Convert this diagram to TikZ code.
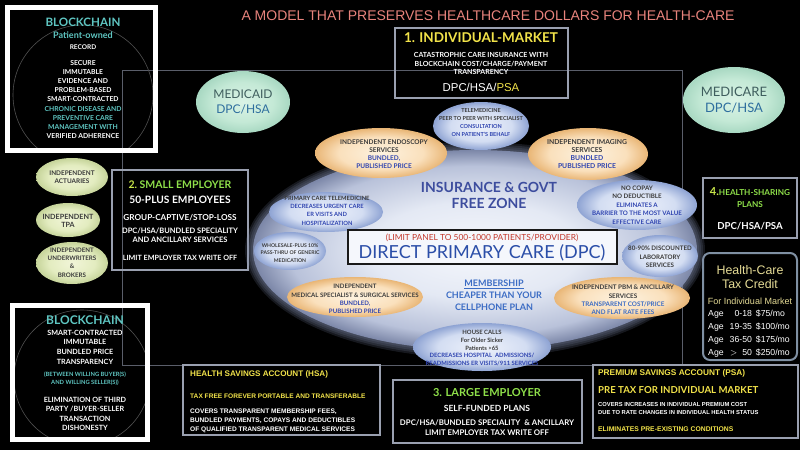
\documentclass[tikz,border=0pt]{standalone}
\usepackage{fontspec}
\setmainfont{Lato}
\newfontfamily\ari{Liberation Sans}
\usetikzlibrary{shapes.geometric}
\newcommand{\fsz}[2]{\fontsize{#1}{#2}\selectfont}
\definecolor{bcteal}{HTML}{5FC6C2}
\definecolor{yel}{HTML}{F2E34A}
\definecolor{grn}{HTML}{8FE04A}
\definecolor{ygr}{HTML}{C9E64A}
\definecolor{sal}{HTML}{E8837C}
\definecolor{boxg}{HTML}{9AA0B0}
\definecolor{lineg}{HTML}{5A5E6A}
\definecolor{faintc}{HTML}{505050}
\definecolor{dtxt}{HTML}{3A3A3A}
\definecolor{tblue}{HTML}{2F44B0}
\definecolor{insc}{HTML}{3D4D9E}
\definecolor{dpcb}{HTML}{2B4EA8}
\definecolor{redc}{HTML}{C3392D}
\definecolor{memc}{HTML}{3B6CC4}
\definecolor{medt}{HTML}{3F5E5E}
\definecolor{medb}{HTML}{2E6E9E}
\definecolor{pale}{HTML}{E6DC96}
\definecolor{taxb}{HTML}{7F90A3}
\definecolor{blob0}{HTML}{F5F7FC}
\definecolor{blob1}{HTML}{E4E9F4}
\definecolor{blob2}{HTML}{B9C2DA}
\definecolor{blob3}{HTML}{7C87A8}
\definecolor{pe0}{HTML}{FDF2DF}
\definecolor{pe1}{HTML}{FAE0BC}
\definecolor{pe2}{HTML}{E9B676}
\definecolor{bu0}{HTML}{EEF2FB}
\definecolor{bu1}{HTML}{D3DDF2}
\definecolor{bu2}{HTML}{8EA3D3}
\definecolor{mn0}{HTML}{DAF3E6}
\definecolor{mn1}{HTML}{C4E9D6}
\definecolor{mn2}{HTML}{A8D8C2}
\definecolor{yg0}{HTML}{F1F5D8}
\definecolor{yg1}{HTML}{E3ECC0}
\definecolor{yg2}{HTML}{C6D49A}
\pgfdeclareradialshading{blobsh}{\pgfpoint{0bp}{0bp}}{color(0bp)=(blob0); color(12bp)=(blob1); color(21bp)=(blob2); color(25bp)=(blob3); color(50bp)=(blob3)}
\pgfdeclareradialshading{peachsh}{\pgfpoint{0bp}{0bp}}{color(0bp)=(pe0); color(16bp)=(pe1); color(25bp)=(pe2); color(50bp)=(pe2)}
\pgfdeclareradialshading{bluesh}{\pgfpoint{0bp}{0bp}}{color(0bp)=(bu0); color(16bp)=(bu1); color(25bp)=(bu2); color(50bp)=(bu2)}
\pgfdeclareradialshading{mintsh}{\pgfpoint{0bp}{0bp}}{color(0bp)=(mn0); color(16bp)=(mn1); color(25bp)=(mn2); color(50bp)=(mn2)}
\pgfdeclareradialshading{ygsh}{\pgfpoint{0bp}{0bp}}{color(0bp)=(yg0); color(16bp)=(yg1); color(25bp)=(yg2); color(50bp)=(yg2)}
\begin{document}
\begin{tikzpicture}[x=1pt,y=-1pt,
  every node/.style={inner sep=0pt},
  ell/.style={ellipse, inner sep=0pt, shade},
  pch/.style={ell, shading=peachsh},
  blu/.style={ell, shading=bluesh},
  mnt/.style={ell, shading=mintsh},
  ygl/.style={ell, shading=ygsh},
  txt/.style={align=center, inner sep=0pt},
  etxt/.style={txt, text=dtxt},
  ltxt/.style={align=left, anchor=west, inner sep=0pt},
  frame/.style={draw=boxg, line width=1.1pt},
  wframe/.style={draw=white, line width=5pt},
  faint/.style={draw=faintc, line width=0.6pt},
  thinline/.style={draw=lineg, line width=0.6pt},
  taxframe/.style={draw=taxb, line width=2pt, rounded corners=7pt}]
\useasboundingbox (0,0) rectangle (800,450);
\fill[black] (0,0) rectangle (800,450);

% decorative frame lines
\draw[thinline] (122,70) rectangle (682,365);

% title
\node[txt, text=sal, font=\ari\fsz{14}{14}] (title) at (488,16) {A MODEL THAT PRESERVES HEALTHCARE DOLLARS FOR HEALTH-CARE};

% top-left blockchain
\begin{scope}
\clip (10,10) rectangle (153,148);
\draw[faint] (83,95) circle[radius=70pt];
\end{scope}
\draw[wframe] (7.5,7.5) rectangle (155.5,150.5);
\node[txt, text=bcteal, font=\bfseries\fsz{11.6}{12}] (bc1t) at (83,22) {BLOCKCHAIN};
\node[txt, text=bcteal, font=\bfseries\fsz{9}{10}] (bc1p) at (83,35) {Patient-owned};
\node[txt, text=white, font=\bfseries\fsz{6.5}{8}] (bc1r) at (83,47) {RECORD};
\node[txt, text=white, font=\bfseries\fsz{6.8}{9.1}] (bc1b) at (83,99.5) {SECURE\\IMMUTABLE\\EVIDENCE AND\\PROBLEM-BASED\\SMART-CONTRACTED\\\textcolor{bcteal}{CHRONIC DISEASE AND}\\\textcolor{bcteal}{PREVENTIVE CARE}\\\textcolor{bcteal}{MANAGEMENT WITH}\\VERIFIED ADHERENCE};

% bottom-left blockchain
\begin{scope}
\clip (15,308) rectangle (145,437);
\draw[faint] (82,378) circle[radius=68pt];
\end{scope}
\draw[wframe] (12.5,305.5) rectangle (147.5,439.5);
\node[txt, text=bcteal, font=\bfseries\fsz{12}{12}] (bc2t) at (85,320) {BLOCKCHAIN};
\node[txt, text=white, font=\bfseries\fsz{7.2}{9.6}] (bc2a) at (85,347) {SMART-CONTRACTED\\IMMUTABLE\\BUNDLED PRICE\\TRANSPARENCY};
\node[txt, text=bcteal, font=\bfseries\fsz{5.8}{8}] (bc2b) at (85,379) {(BETWEEN WILLING BUYER(S)\\AND WILLING SELLER(S))};
\node[txt, text=white, font=\bfseries\fsz{7.2}{9.3}] (bc2c) at (85,414) {ELIMINATION OF THIRD\\PARTY /BUYER-SELLER\\TRANSACTION\\DISHONESTY};

% individual market
\draw[frame] (395,28) rectangle (568,98);
\node[txt, text=yel, font=\bfseries\fsz{13.5}{14}] (im1) at (481,38) {1. INDIVIDUAL-MARKET};
\node[txt, text=white, font=\bfseries\fsz{7}{8.5}] (im2) at (481,63.5) {CATASTROPHIC CARE INSURANCE WITH\\BLOCKCHAIN COST/CHARGE/PAYMENT\\TRANSPARENCY};
\node[txt, text=white, font=\ari\fsz{11.4}{12}] (im3) at (481,87) {DPC/HSA/\textcolor{yel}{PSA}};

% medicaid / medicare
\node[mnt, minimum width=94pt, minimum height=62pt] (mcd) at (243,102) {};
\node[txt, text=medt, font=\fsz{12}{15}] (mcdt) at (243,102) {MEDICAID\\\textcolor{medb}{DPC/HSA}};
\node[mnt, minimum width=102pt, minimum height=66pt] (mcr) at (734,100) {};
\node[txt, text=medt, font=\fsz{13}{16}] (mcrt) at (734,100) {MEDICARE\\\textcolor{medb}{DPC/HSA}};

% small employer
\draw[frame] (112,170) rectangle (248,270);
\node[txt, font=\bfseries\fsz{10.5}{11}] (se1) at (180,185) {\textcolor{ygr}{2.}\ \textcolor{grn}{SMALL EMPLOYER}};
\node[txt, text=white, font=\bfseries\fsz{10.2}{11}] (se2) at (180,200) {50-PLUS EMPLOYEES};
\node[txt, text=white, font=\bfseries\fsz{8.2}{9}] (se3) at (180,218) {GROUP-CAPTIVE/STOP-LOSS};
\node[txt, text=white, font=\bfseries\fsz{7.5}{9}] (se4) at (180,235.5) {DPC/HSA/BUNDLED SPECIALITY\\AND ANCILLARY SERVICES};
\node[txt, text=white, font=\bfseries\fsz{7.2}{8}] (se5) at (180,258) {LIMIT EMPLOYER TAX WRITE OFF};

% left ellipses
\node[ygl, minimum width=72pt, minimum height=38pt] (act) at (72,177) {};
\node[etxt, font=\bfseries\fsz{6.4}{8}] (actt) at (72,177) {INDEPENDENT\\ACTUARIES};
\node[ygl, minimum width=64pt, minimum height=34pt] (tpa) at (68,220) {};
\node[etxt, font=\bfseries\fsz{7.2}{8.5}] (tpat) at (68,221) {INDEPENDENT\\TPA};
\node[ygl, minimum width=72pt, minimum height=42pt] (uw) at (72,263) {};
\node[etxt, font=\bfseries\fsz{6.2}{8.3}] (uwt) at (72,262.5) {INDEPENDENT\\UNDERWRITERS\\\&\\BROKERS};

% health-sharing
\draw[frame] (703,178) rectangle (797,238);
\node[txt, font=\bfseries\fsz{8.2}{9}] (hs1) at (750,192) {\textcolor{ygr}{\fsz{11}{11}4.}\textcolor{grn}{HEALTH-SHARING}};
\node[txt, text=grn, font=\bfseries\fsz{8.2}{9}] (hs2) at (750,205) {PLANS};
\node[txt, text=white, font=\bfseries\fsz{9.6}{10}] (hs3) at (750,226) {DPC/HSA/PSA};

% tax credit
\draw[taxframe] (703,253) rectangle (797,360);
\node[txt, text=pale, font=\ari\fsz{12.4}{14}] (tc1) at (750,277) {Health-Care\\Tax Credit};
\node[txt, text=pale, font=\ari\fsz{9}{10}] (tc2) at (750,301) {For Individual Market};
\node[txt, text=white, font=\ari\fsz{8.7}{13}] (tc3) at (749,333) {\begin{tabular}{@{}l@{\hspace{6pt}}r@{\hspace{4pt}}l@{}}Age & 0-18 & \$75/mo\\Age & 19-35 & \$100/mo\\Age & 36-50 & \$175/mo\\Age & $>$\ \ 50 & \$250/mo\end{tabular}};

% central blob with soft glow
\foreach \g in {8,6,4,2}
  \fill[blob3, opacity=0.18] (475,250) ellipse [x radius={222pt+\g pt}, y radius={100pt+\g pt}];
\path[shade, shading=blobsh] (475,250) ellipse [x radius=222pt, y radius=100pt];

% ellipses around
\node[blu, minimum width=96pt, minimum height=48pt] (tele) at (481,126) {};
\node[etxt, font=\bfseries\fsz{5.5}{8.3}] (telet) at (481,122.5) {TELEMEDICINE\\PEER TO PEER WITH SPECIALIST\\\textcolor{tblue}{CONSULTATION}\\\textcolor{tblue}{ON PATIENT'S BEHALF}};
\node[pch, minimum width=132pt, minimum height=50pt] (endo) at (381,153) {};
\node[etxt, font=\bfseries\fsz{6.5}{8}] (endot) at (384,154) {INDEPENDENT ENDOSCOPY\\SERVICES\\\textcolor{tblue}{BUNDLED,}\\\textcolor{tblue}{PUBLISHED PRICE}};
\node[pch, minimum width=120pt, minimum height=52pt] (img) at (588,154) {};
\node[etxt, font=\bfseries\fsz{6.8}{8}] (imgt) at (587,154) {INDEPENDENT IMAGING\\SERVICES\\\textcolor{tblue}{BUNDLED}\\\textcolor{tblue}{PUBLISHED PRICE}};

\node[txt, text=insc, font=\bfseries\fsz{14}{16}] (ins) at (489,195) {INSURANCE \& GOVT\\FREE ZONE};

\node[blu, minimum width=114pt, minimum height=40pt] (pct) at (326,212) {};
\node[etxt, font=\bfseries\fsz{5.8}{8.3}] (pctt) at (327,210.5) {PRIMARY CARE TELEMEDICINE\\\textcolor{tblue}{DECREASES URGENT CARE}\\\textcolor{tblue}{ER VISITS AND}\\\textcolor{tblue}{HOSPITALIZATION}};
\node[blu, minimum width=120pt, minimum height=50pt] (nocp) at (637,205) {};
\node[etxt, font=\bfseries\fsz{6.2}{8.5}] (nocpt) at (637,205) {NO COPAY\\NO DEDUCTIBLE\\\textcolor{tblue}{ELIMINATES A}\\\textcolor{tblue}{BARRIER TO THE MOST VALUE}\\\textcolor{tblue}{EFFECTIVE CARE}};

\node[blu, minimum width=72pt, minimum height=38pt] (whl) at (290,251) {};
\node[etxt, font=\bfseries\fsz{5.1}{7.8}] (whlt) at (290,253) {WHOLESALE-PLUS 10\%\\PASS-THRU OF GENERIC\\MEDICATION};
\node[blu, minimum width=76pt, minimum height=42pt] (lab) at (660,256) {};
\node[etxt, font=\bfseries\fsz{6.2}{8.5}] (labt) at (660,257) {80-90\% DISCOUNTED\\LABORATORY\\SERVICES};

% DPC box
\draw[draw=black!90, fill=blob0, line width=1.5pt] (348,230) rectangle (617,264);
\node[txt, text=redc, font=\fsz{8.4}{9}] (lim) at (482,237.5) {(LIMIT PANEL TO 500-1000 PATIENTS/PROVIDER)};
\node[txt, text=dpcb, font=\fsz{18}{18}] (dpc) at (482,253) {DIRECT PRIMARY CARE (DPC)};

% membership
\node[txt, text=memc, font=\bfseries\fsz{9}{12}] (mem) at (494,295) {\underline{MEMBERSHIP}\\CHEAPER THAN YOUR\\CELLPHONE PLAN};

\node[pch, minimum width=136pt, minimum height=40pt] (msp) at (355,297) {};
\node[etxt, font=\bfseries\fsz{6.1}{8.3}] (mspt) at (355,299) {INDEPENDENT\\MEDICAL SPECIALIST \& SURGICAL SERVICES\\\textcolor{tblue}{BUNDLED,}\\\textcolor{tblue}{PUBLISHED PRICE}};
\node[pch, minimum width=136pt, minimum height=42pt] (pbm) at (622,298) {};
\node[etxt, font=\bfseries\fsz{6.3}{8.3}] (pbmt) at (623,300) {INDEPENDENT PBM \& ANCILLARY\\SERVICES\\\textcolor{memc}{TRANSPARENT COST/PRICE}\\\textcolor{memc}{AND FLAT RATE FEES}};

\node[blu, minimum width=138pt, minimum height=48pt] (hc) at (482,347) {};
\node[etxt, font=\bfseries\fsz{5.9}{7.8}] (hct) at (482,348) {HOUSE CALLS\\For Older Sicker\\Patients >65\\\textcolor{tblue}{DECREASES HOSPITAL\ \ ADMISSIONS/}\\\textcolor{tblue}{READMISSIONS ER VISITS/911 SERVICES}};

% HSA
\draw[frame] (183,365) rectangle (380,435);
\node[ltxt, text=yel, font=\ari\bfseries\fsz{8.1}{9}] (hsa1) at (190,374) {HEALTH SAVINGS ACCOUNT (HSA)};
\node[ltxt, text=yel, font=\ari\bfseries\fsz{6.6}{8}] (hsa2) at (190,396) {TAX FREE FOREVER PORTABLE AND TRANSFERABLE};
\node[ltxt, text=white, font=\ari\bfseries\fsz{6.6}{9}] (hsa3) at (190,421) {COVERS TRANSPARENT MEMBERSHIP FEES,\\BUNDLED PAYMENTS, COPAYS AND DEDUCTIBLES\\OF QUALIFIED TRANSPARENT MEDICAL SERVICES};

% large employer
\draw[frame] (393,380) rectangle (582,443);
\node[txt, text=grn, font=\bfseries\fsz{11}{12}] (le1) at (487,393) {3. LARGE EMPLOYER};
\node[txt, text=white, font=\bfseries\fsz{8.5}{9}] (le2) at (487,408) {SELF-FUNDED PLANS};
\node[txt, text=white, font=\bfseries\fsz{7.8}{10}] (le3) at (487,428) {DPC/HSA/BUNDLED SPECIALITY\ \ \& ANCILLARY\\LIMIT EMPLOYER TAX WRITE OFF};

% PSA
\draw[frame] (593,365) rectangle (798,438);
\node[ltxt, text=yel, font=\ari\bfseries\fsz{8.3}{9}] (psa1) at (598,373) {PREMIUM SAVINGS ACCOUNT (PSA)};
\node[ltxt, text=yel, font=\bfseries\fsz{9.6}{10}] (psa2) at (598,390) {PRE TAX FOR INDIVIDUAL MARKET};
\node[ltxt, text=white, font=\ari\bfseries\fsz{5.8}{7.5}] (psa3) at (598,408.5) {COVERS INCREASES IN INDIVIDUAL PREMIUM COST\\DUE TO RATE CHANGES IN INDIVIDUAL HEALTH STATUS};
\node[ltxt, text=yel, font=\ari\bfseries\fsz{6.8}{8}] (psa4) at (598,429) {ELIMINATES PRE-EXISTING CONDITIONS};
\end{tikzpicture}
\end{document}
